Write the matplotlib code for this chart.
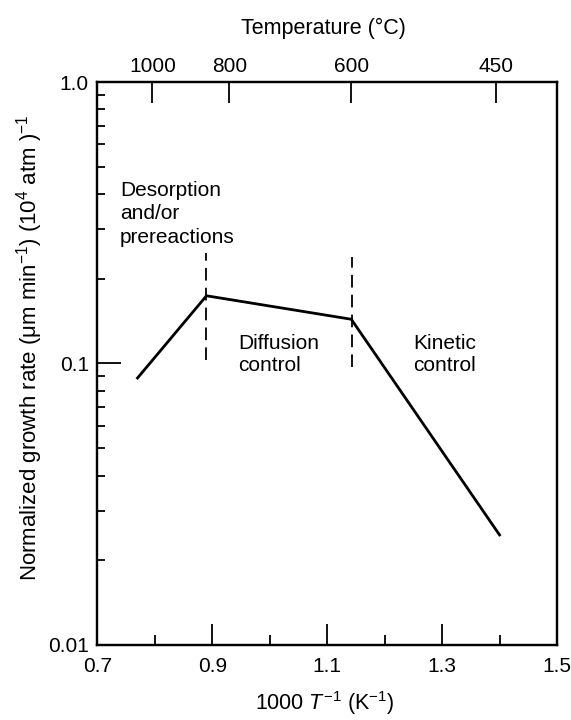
import matplotlib
matplotlib.use("Agg")
import matplotlib.pyplot as plt
from matplotlib.ticker import FixedLocator, LogLocator, NullFormatter, NullLocator

plt.rcParams['font.family'] = ['Liberation Sans', 'DejaVu Sans']
plt.rcParams['mathtext.fontset'] = 'custom'
plt.rcParams['mathtext.rm'] = 'Liberation Sans'
plt.rcParams['mathtext.it'] = 'Liberation Sans:italic'
plt.rcParams['mathtext.bf'] = 'Liberation Sans:bold'

# Growth-rate curve (1000/T in K^-1, normalized rate)
inv_temp = [0.77, 0.89, 1.142, 1.40]
growth_rate = [0.0888, 0.174, 0.1436, 0.0246]

# Regime boundaries (dashed markers)
boundary_x = [0.89, 1.143]
boundary_top = [0.247, 0.239]
boundary_bottom = [0.103, 0.097]

# Temperature scale along the top edge
temp_labels = ['1000', '800', '600', '450']
temp_positions = [0.796, 0.930, 1.142, 1.393]

x_ticks = [0.7, 0.9, 1.1, 1.3, 1.5]
x_minor = [0.8, 1.0, 1.2, 1.4]
y_ticks = [0.01, 0.1, 1.0]
y_ticklabels = ['0.01', '0.1', '1.0']

# Regime labels: text, x, y (top edge), line spacing
regions = [
    ('Desorption\nand/or\nprereactions', 0.7395, 0.445, 1.3),
    ('Diffusion\ncontrol', 0.9447, 0.127, 1.15),
    ('Kinetic\ncontrol', 1.249, 0.127, 1.2),
]

fig = plt.figure(figsize=(5.71, 7.2), dpi=100)
ax = fig.add_axes([0.1704, 0.1042, 0.8051, 0.7819])

ax.plot(inv_temp, growth_rate, color='black', lw=2.0, solid_joinstyle='miter')
for bx, bt, bb in zip(boundary_x, boundary_top, boundary_bottom):
    ax.plot([bx, bx], [bb, bt], color='black', lw=1.3, dashes=(7, 4))

ax.set_yscale('log')
ax.set_xlim(0.7, 1.5)
ax.set_ylim(0.01, 1.0)

ax.set_xticks(x_ticks)
ax.set_xticklabels([f'{v:.1f}' for v in x_ticks])
ax.xaxis.set_minor_locator(FixedLocator(x_minor))
ax.set_yticks(y_ticks)
ax.set_yticklabels(y_ticklabels)
ax.yaxis.set_minor_locator(LogLocator(base=10, subs=range(2, 10)))
ax.yaxis.set_minor_formatter(NullFormatter())

ax.tick_params(axis='x', which='major', direction='in', length=15, width=1.3,
               labelsize=15, pad=9, top=False)
ax.tick_params(axis='x', which='minor', direction='in', length=7, width=1.3, top=False)
ax.tick_params(axis='y', which='major', direction='in', length=17, width=1.3,
               labelsize=15, pad=6, right=False)
ax.tick_params(axis='y', which='minor', direction='in', length=6, width=1.3, right=False)

for s in ax.spines.values():
    s.set_linewidth(1.6)

top = ax.twiny()
top.set_xlim(ax.get_xlim())
top.set_xticks(temp_positions)
top.set_xticklabels(temp_labels)
top.xaxis.set_minor_locator(NullLocator())
top.tick_params(axis='x', direction='in', length=15, width=1.3, labelsize=15, pad=4)
for s in top.spines.values():
    s.set_linewidth(1.6)

for txt, tx, ty, ls in regions:
    ax.text(tx, ty, txt, fontsize=15, ha='left', va='top', linespacing=ls)

fig.text(0.0525, 0.5167,
         'Normalized growth rate (μm min$^{-1}$) (10$^4$ atm )$^{-1}$',
         rotation=90, ha='center', va='center', fontsize=16)
fig.text(0.569, 0.024, '1000 $T^{-1}$ (K$^{-1}$)', ha='center', va='center', fontsize=15.5)
fig.text(0.567, 0.961, 'Temperature (°C)', ha='center', va='center', fontsize=15.5)

fig.savefig('out.png', dpi=100)
